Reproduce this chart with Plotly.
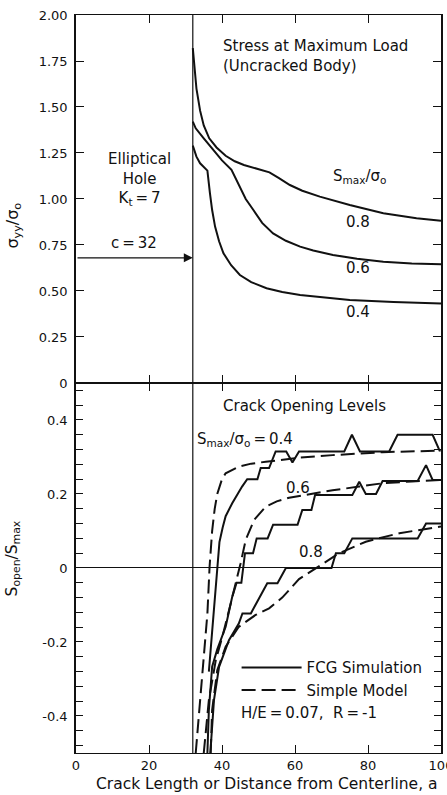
import plotly.graph_objects as go
from plotly.subplots import make_subplots

# ---------------- data ----------------
C_HOLE = 32
ARROW_Y = 0.68

# Top panel: stress at maximum load (uncracked body)
top08_x = [32, 33, 34, 35, 36.5, 38.5, 41, 43.5, 46, 49, 53, 55.5, 58.6, 62, 66.8, 75, 84.2, 93.3, 100]
top08_y = [1.82, 1.60, 1.48, 1.40, 1.33, 1.28, 1.235, 1.205, 1.185, 1.168, 1.145, 1.115, 1.076, 1.045, 1.013, 0.967, 0.922, 0.895, 0.882]

top06_x = [32, 32.8, 35, 37.6, 40, 42.6, 43.5, 44.9, 46.5, 48.6, 51, 54, 57.5, 61.4, 65, 70.4, 77, 84.2, 92, 100]
top06_y = [1.42, 1.384, 1.33, 1.266, 1.21, 1.158, 1.12, 1.067, 1.00, 0.94, 0.87, 0.813, 0.773, 0.741, 0.72, 0.696, 0.675, 0.659, 0.65, 0.645]

top04_x = [32, 33, 34, 36, 36.7, 37.3, 38.1, 39.2, 40.4, 42.5, 44.9, 48, 52.2, 56.5, 61.4, 68, 75, 87, 100]
top04_y = [1.29, 1.23, 1.194, 1.154, 1.031, 0.94, 0.85, 0.77, 0.705, 0.64, 0.587, 0.548, 0.515, 0.494, 0.478, 0.463, 0.451, 0.44, 0.432]

# Bottom panel: crack opening levels
fcg04_x = [36.4, 37.5, 38.6, 39.3, 40.2, 41.0, 42.8, 44.2, 45.5, 46.9, 49.7, 50.6, 52.9, 54.7, 57.6, 59.3, 61.1, 73.5, 75.6, 77.8, 85.8, 88.1, 97.7, 99.7]
fcg04_y = [-0.28, -0.14, 0.0, 0.07, 0.11, 0.14, 0.175, 0.20, 0.22, 0.24, 0.24, 0.27, 0.27, 0.315, 0.315, 0.285, 0.315, 0.315, 0.36, 0.315, 0.315, 0.36, 0.36, 0.315]

sm04_x = [32.8, 33.7, 34.8, 36.0, 36.6, 37.3, 38.0, 38.7, 40.0, 41.0, 44.6, 48, 52, 61.1, 70.3, 84, 100]
sm04_y = [-0.5, -0.393, -0.276, -0.123, 0.004, 0.10, 0.16, 0.20, 0.24, 0.256, 0.274, 0.282, 0.287, 0.298, 0.305, 0.313, 0.317]

fcg06_x = [36.0, 36.4, 37.3, 38.7, 41.0, 42.8, 44.0, 45.3, 46.3, 48.5, 49.5, 52.5, 54.0, 60.7, 62.0, 64.5, 65.5, 75.7, 77.6, 79.4, 82.2, 84.0, 93.6, 95.9, 97.7, 100]
fcg06_y = [-0.5, -0.384, -0.267, -0.22, -0.159, -0.078, -0.04, -0.04, 0.04, 0.04, 0.08, 0.08, 0.117, 0.117, 0.157, 0.157, 0.197, 0.197, 0.233, 0.2, 0.2, 0.235, 0.235, 0.278, 0.238, 0.238]

sm06_x = [35.0, 36.4, 38.3, 40.1, 42.4, 43.8, 45.1, 46.5, 48.8, 52, 55, 58.4, 61.1, 65.7, 70.3, 77.6, 84, 92, 100]
sm06_y = [-0.5, -0.357, -0.249, -0.186, -0.095, -0.04, 0.013, 0.076, 0.13, 0.166, 0.18, 0.19, 0.195, 0.203, 0.21, 0.22, 0.229, 0.234, 0.238]

fcg08_x = [36.8, 37.8, 39.2, 41.9, 44.6, 45.6, 47.9, 52.4, 55.2, 57.5, 70.0, 71.2, 73.5, 75.7, 93.6, 95.9, 100]
fcg08_y = [-0.5, -0.357, -0.267, -0.195, -0.15, -0.123, -0.123, -0.041, -0.041, 0.0, 0.0, 0.04, 0.04, 0.08, 0.08, 0.12, 0.12]

sm08_x = [36.9, 37.3, 38.7, 41.0, 44.6, 49.2, 52.9, 56.5, 61.1, 66.6, 72.1, 79.4, 88.6, 100]
sm08_y = [-0.5, -0.384, -0.276, -0.213, -0.159, -0.127, -0.109, -0.08, -0.03, 0.004, 0.04, 0.071, 0.094, 0.112]

top_tick_vals = [0, 0.25, 0.5, 0.75, 1.0, 1.25, 1.5, 1.75, 2.0]
top_tick_text = ["0", "0.25", "0.50", "0.75", "1.00", "1.25", "1.50", "1.75", "2.00"]
bot_tick_vals = [round(-0.48 + 0.04 * i, 2) for i in range(25)]
bot_labels = {-0.4: "-0.4", -0.2: "-0.2", 0.0: "0", 0.2: "0.2", 0.4: "0.4"}
bot_tick_text = [bot_labels.get(v, "") for v in bot_tick_vals]
x_tick_vals = [0, 20, 40, 60, 80, 100]
x_tick_text = ["0", "20", "40", "60", "80", "100"]

# ---------------- figure ----------------
FONT = "DejaVu Sans"
INK = "#111111"
TS = 15  # annotation text size
TICK = 13

fig = make_subplots(rows=2, cols=1, shared_xaxes=True, vertical_spacing=0)

solid = dict(color=INK, width=2)
dashed = dict(color=INK, width=2, dash="14px,6px")

for xs, ys in [(top08_x, top08_y), (top06_x, top06_y), (top04_x, top04_y)]:
    fig.add_trace(go.Scatter(x=xs, y=ys, mode="lines", line=solid, showlegend=False), row=1, col=1)

fig.add_trace(go.Scatter(x=fcg04_x, y=fcg04_y, mode="lines", line=solid, name="FCG Simulation"), row=2, col=1)
fig.add_trace(go.Scatter(x=sm04_x, y=sm04_y, mode="lines", line=dashed, name="Simple Model"), row=2, col=1)
fig.add_trace(go.Scatter(x=fcg06_x, y=fcg06_y, mode="lines", line=solid, showlegend=False), row=2, col=1)
fig.add_trace(go.Scatter(x=sm06_x, y=sm06_y, mode="lines", line=dashed, showlegend=False), row=2, col=1)
fig.add_trace(go.Scatter(x=fcg08_x, y=fcg08_y, mode="lines", line=solid, showlegend=False), row=2, col=1)
fig.add_trace(go.Scatter(x=sm08_x, y=sm08_y, mode="lines", line=dashed, showlegend=False), row=2, col=1)

def axis_common(lw):
    return dict(showline=True, linecolor=INK, linewidth=lw, mirror="ticks", ticks="inside",
                tickcolor=INK, tickwidth=1.2, showgrid=False, zeroline=False, automargin=False,
                tickfont=dict(family=FONT, size=TICK, color=INK))

fig.update_xaxes(range=[0, 100], tickvals=[20, 40, 60, 80], ticklen=8, showticklabels=False,
                 **axis_common(1), row=1, col=1)
fig.update_xaxes(range=[0, 100], tickvals=x_tick_vals, ticktext=x_tick_text, ticklen=8,
                 showticklabels=True, ticklabeloverflow="allow",
                 **axis_common(1), row=2, col=1)
fig.update_yaxes(range=[0, 2.0], tickvals=top_tick_vals, ticktext=top_tick_text, ticklen=8,
                 ticklabelstandoff=4, domain=[0.5014, 1.0], **axis_common(1.5), row=1, col=1)
ax2 = axis_common(1.5)
ax2["zeroline"] = True
fig.update_yaxes(range=[-0.5, 0.5], tickvals=bot_tick_vals, ticktext=bot_tick_text, ticklen=7,
                 ticklabelstandoff=4, domain=[0.0, 0.5014], zerolinecolor=INK, zerolinewidth=1,
                 **ax2, row=2, col=1)

# vertical line at the hole edge c
fig.add_shape(type="line", xref="x", yref="paper", x0=C_HOLE, x1=C_HOLE, y0=0, y1=1,
              line=dict(color=INK, width=1.2))

def txt(text, x, y, xref="x", yref="y", size=TS, xanchor="center", yanchor="middle", align="center", **kw):
    fig.add_annotation(text=text, x=x, y=y, xref=xref, yref=yref, showarrow=False,
                       xanchor=xanchor, yanchor=yanchor, align=align,
                       font=dict(family=FONT, size=size, color=INK), **kw)

# arrow c = 32
fig.add_annotation(x=C_HOLE, y=ARROW_Y, ax=0, ay=ARROW_Y, xref="x", yref="y", axref="x", ayref="y",
                   text="", showarrow=True, arrowhead=2, arrowsize=1.5, arrowwidth=1.2, arrowcolor=INK)

# top-panel texts
txt("Stress at Maximum Load<br>(Uncracked Body)", 39.8, 1.89, xanchor="left", yanchor="top", align="left")
txt("Elliptical<br>Hole<br>K<sub>t</sub>\u2009=\u20097", 17.5, 1.11)
txt("c\u2009=\u200932", 16.0, 0.76)
txt("S<sub>max</sub>/σ<sub>o</sub>", 77.8, 1.12)
txt("0.8", 77.3, 0.877)
txt("0.6", 77.3, 0.623)
txt("0.4", 77.3, 0.388)

# bottom-panel texts
txt("Crack Opening Levels", 62.5, 0.438, yref="y2")
txt("S<sub>max</sub>/σ<sub>o</sub>\u2009=\u20090.4", 32.6, 0.346, yref="y2", xanchor="left")
txt("0.6", 60.7, 0.215, yref="y2")
txt("0.8", 64.4, 0.044, yref="y2")
txt("H/E\u2009=\u20090.07,  R\u2009=\u2009-1", 44.6, -0.393, yref="y2", xanchor="left")

# axis titles
txt("σ<sub>yy</sub>/σ<sub>o</sub>", -0.172, 0.715, xref="paper", yref="paper", size=16, textangle=-90)
txt("S<sub>open</sub>/S<sub>max</sub>", -0.172, 0.264, xref="paper", yref="paper", size=15.5, textangle=-90)
txt("Crack Length or Distance from Centerline, a", 0.522, -0.042, xref="paper", yref="paper", size=15.5)

fig.update_layout(
    width=447, height=795,
    margin=dict(l=76, r=6, t=15, b=42, autoexpand=False),
    paper_bgcolor="white", plot_bgcolor="white",
    font=dict(family=FONT, size=TICK, color=INK),
    legend=dict(x=0.44, y=0.138, xanchor="left", yanchor="top", bgcolor="rgba(0,0,0,0)",
                font=dict(family=FONT, size=TS, color=INK), itemwidth=60, tracegroupgap=2),
)

fig.write_html("out.html")
